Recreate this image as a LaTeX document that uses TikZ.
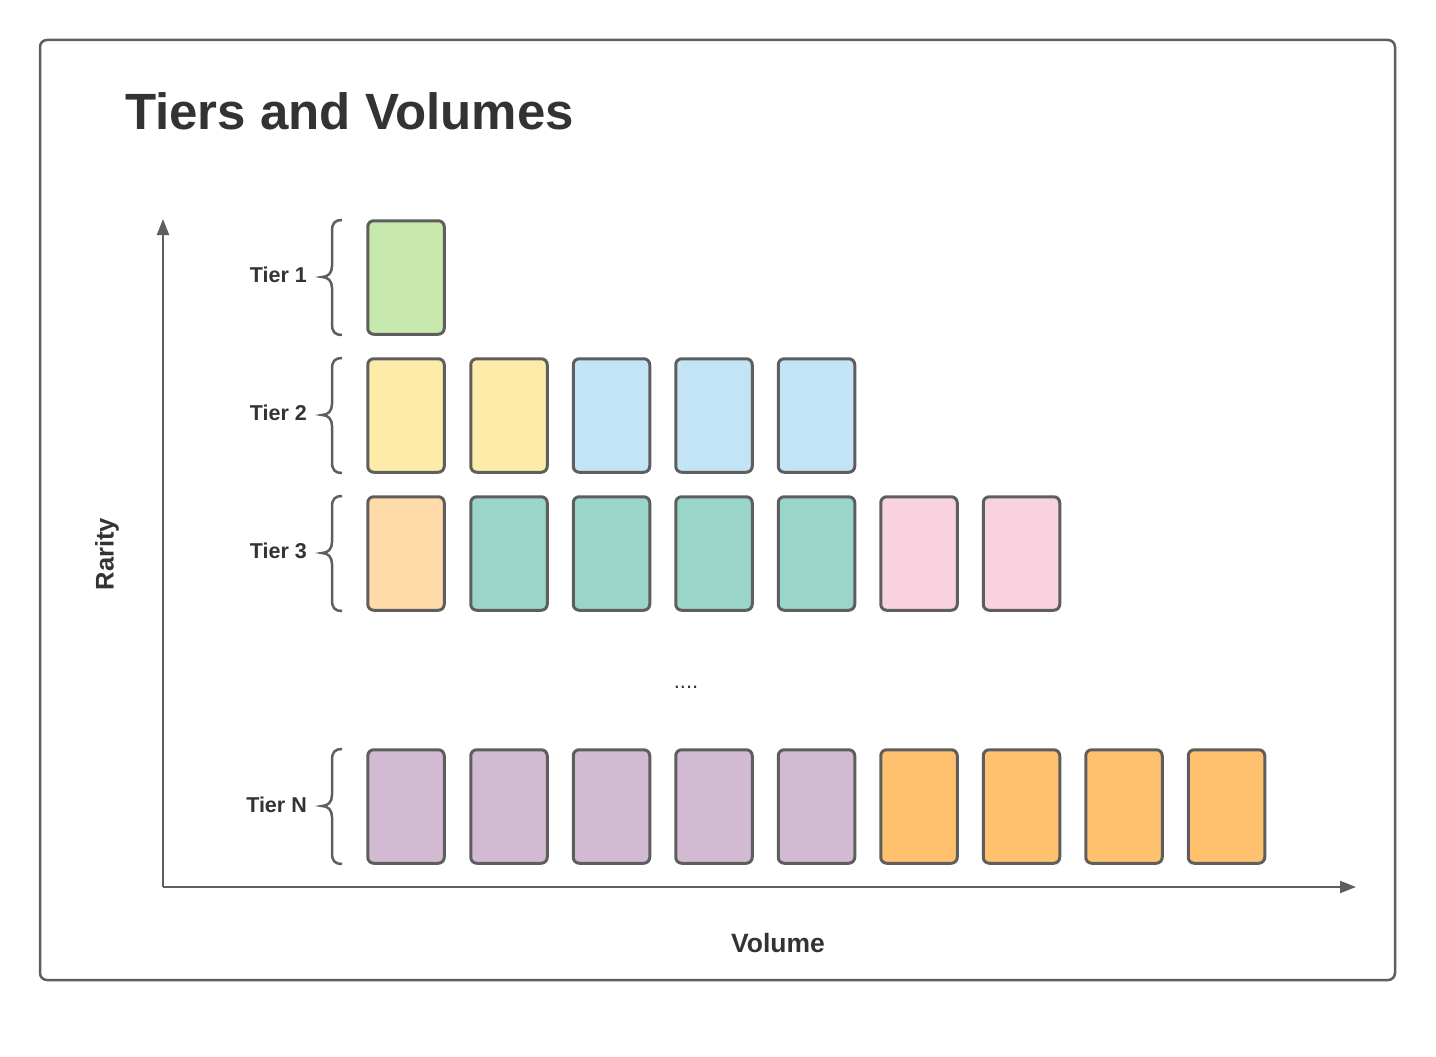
\documentclass[tikz,border=0pt]{standalone}
\usepackage{fontspec}
\setmainfont{Liberation Sans}
\usetikzlibrary{arrows.meta}
\definecolor{edge}{HTML}{5E5E5E}
\definecolor{txt}{HTML}{333333}
\definecolor{cgreen}{HTML}{C7E9AD}
\definecolor{cyellow}{HTML}{FFEBA8}
\definecolor{cblue}{HTML}{C3E3F6}
\definecolor{cteal}{HTML}{9AD5CA}
\definecolor{cpeach}{HTML}{FFDBA9}
\definecolor{cpink}{HTML}{F8D2DF}
\definecolor{cpurple}{HTML}{D2BBD2}
\definecolor{corange}{HTML}{FFC16E}
\tikzset{
  card/.style={draw=edge, line width=3pt, rounded corners=6pt, minimum width=76.5pt, minimum height=113.5pt, inner sep=0pt, anchor=center},
  tierlabel/.style={font=\fontsize{21.5}{24}\selectfont\bfseries, text=txt, anchor=east, inner sep=0pt},
  bracestyle/.style={draw=edge, line width=2.5pt},
  axis/.style={draw=edge, line width=2pt, -{Triangle[length=16pt,width=12pt]}}
}
\newcommand{\tierbrace}[2]{%
  \draw[bracestyle] (342,#1) .. controls (335,#1) and (332,#1+3) .. (332,#1+11) -- (332,#2-11) .. controls (332,#2-4) and (328,#2) .. (322,#2)
   .. controls (328,#2) and (332,#2+4) .. (332,#2+11) -- (332,#1+104) .. controls (332,#1+112) and (335,#1+115) .. (342,#1+115);}
\begin{document}
\begin{tikzpicture}[x=1pt,y=-1pt]
\useasboundingbox (0,0) rectangle (1436,1057);
\draw[edge, line width=2.5pt, rounded corners=7pt] (40,40) rectangle (1395,980);
\node[anchor=base west, inner sep=0pt, font=\fontsize{51}{56}\selectfont\bfseries, text=txt] (title) at (125,129) {Tiers and Volumes};

% axes
\coordinate (origin) at (163,887);
\coordinate (ytop) at (163,219);
\coordinate (xend) at (1356,887);
\draw[axis] (origin) -- (ytop);
\draw[axis] (origin) -- (xend);
\node[rotate=90, font=\fontsize{25.5}{28}\selectfont\bfseries, text=txt, inner sep=0pt] (rarity) at (107,554) {Rarity};
\node[font=\fontsize{26.5}{28}\selectfont\bfseries, text=txt, inner sep=0pt] (volume) at (778,943) {Volume};

% labels
\node[tierlabel] (t1) at (307,275) {Tier 1};
\node[tierlabel] (t2) at (307,413) {Tier 2};
\node[tierlabel] (t3) at (307,551) {Tier 3};
\node[tierlabel] (tn) at (307,805) {Tier N};

\tierbrace{220}{277}
\tierbrace{358}{415}
\tierbrace{496}{553}
\tierbrace{749}{806}

% row 1
\node[card, fill=cgreen] (r1c1) at (406,277.5) {};
% row 2
\node[card, fill=cyellow] (r2c1) at (406,415.5) {};
\node[card, fill=cyellow] (r2c2) at (509,415.5) {};
\node[card, fill=cblue] (r2c3) at (611.5,415.5) {};
\node[card, fill=cblue] (r2c4) at (714,415.5) {};
\node[card, fill=cblue] (r2c5) at (816.5,415.5) {};
% row 3
\node[card, fill=cpeach] (r3c1) at (406,553.5) {};
\node[card, fill=cteal] (r3c2) at (509,553.5) {};
\node[card, fill=cteal] (r3c3) at (611.5,553.5) {};
\node[card, fill=cteal] (r3c4) at (714,553.5) {};
\node[card, fill=cteal] (r3c5) at (816.5,553.5) {};
\node[card, fill=cpink] (r3c6) at (919,553.5) {};
\node[card, fill=cpink] (r3c7) at (1021.5,553.5) {};
% dots
\node[font=\fontsize{22}{24}\selectfont, text=txt, inner sep=0pt, anchor=base] (dots) at (686,688) {....};
% row N
\node[card, fill=cpurple] (rnc1) at (406,806.5) {};
\node[card, fill=cpurple] (rnc2) at (509,806.5) {};
\node[card, fill=cpurple] (rnc3) at (611.5,806.5) {};
\node[card, fill=cpurple] (rnc4) at (714,806.5) {};
\node[card, fill=cpurple] (rnc5) at (816.5,806.5) {};
\node[card, fill=corange] (rnc6) at (919,806.5) {};
\node[card, fill=corange] (rnc7) at (1021.5,806.5) {};
\node[card, fill=corange] (rnc8) at (1124,806.5) {};
\node[card, fill=corange] (rnc9) at (1226.5,806.5) {};
\end{tikzpicture}
\end{document}
